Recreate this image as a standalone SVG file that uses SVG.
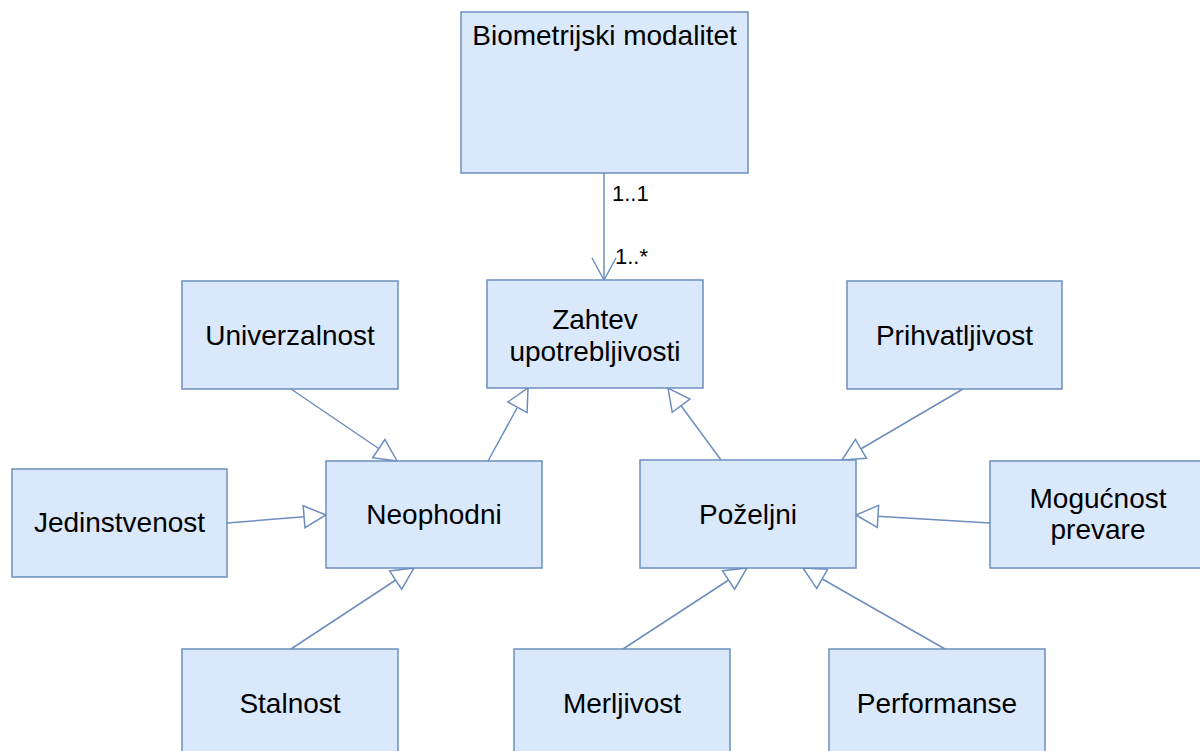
<svg xmlns="http://www.w3.org/2000/svg" width="1200" height="751" viewBox="0 0 1200 751">
  <style>
    .box { fill: #dae8fc; stroke: #6c8ebf; stroke-width: 1.5; }
    .lbl { font-family: "Liberation Sans", Arial, sans-serif; font-size: 28px; fill: #000; text-anchor: middle; }
    .mult { font-family: "Liberation Sans", Arial, sans-serif; font-size: 22px; fill: #000; }
    .edge { fill: none; stroke: #6c8ebf; stroke-width: 1.5; }
    .gen { marker-end: url(#hollow); }
    .assoc { marker-end: url(#open); }
  </style>
  <defs>
    <!-- generalization: hollow triangle -->
    <marker id="hollow" markerUnits="userSpaceOnUse" markerWidth="28" markerHeight="28" refX="24" refY="13" orient="auto" overflow="visible">
      <path d="M2,2 L24,13 L2,24 Z" fill="#ffffff" stroke="#6c8ebf" stroke-width="1.5"/>
    </marker>
    <!-- association: open arrowhead -->
    <marker id="open" markerUnits="userSpaceOnUse" markerWidth="28" markerHeight="28" refX="23" refY="12" orient="auto" overflow="visible">
      <path d="M1,0 L23,12 L1,24" fill="none" stroke="#6c8ebf" stroke-width="1.5"/>
    </marker>
  </defs>

  <rect width="1200" height="751" fill="#ffffff"/>

  <g id="connectors">
    <line class="edge assoc" x1="604" y1="173" x2="604" y2="280"/>
    <text class="mult" x="612" y="201">1..1</text>
    <text class="mult" x="615" y="264">1..*</text>
    <line class="edge gen" x1="291" y1="389" x2="397" y2="461"/>
    <line class="edge gen" x1="227" y1="523" x2="326" y2="515"/>
    <line class="edge gen" x1="291" y1="649" x2="414" y2="568"/>
    <line class="edge gen" x1="488" y1="461" x2="528" y2="388"/>
    <line class="edge gen" x1="721" y1="460" x2="668" y2="388"/>
    <line class="edge gen" x1="963" y1="389" x2="842" y2="460"/>
    <line class="edge gen" x1="990" y1="523" x2="856" y2="515"/>
    <line class="edge gen" x1="623" y1="649" x2="747" y2="568"/>
    <line class="edge gen" x1="945" y1="649" x2="803" y2="568"/>
  </g>

  <g id="biometrijski-modalitet">
    <rect class="box" x="461" y="12" width="287" height="161"/>
    <text class="lbl" x="604.5" y="45">Biometrijski modalitet</text>
  </g>

  <g id="zahtev-upotrebljivosti">
    <rect class="box" x="487" y="280" width="216" height="108"/>
    <text class="lbl" x="595" y="329">Zahtev</text>
    <text class="lbl" x="595" y="361">upotrebljivosti</text>
  </g>

  <g id="univerzalnost">
    <rect class="box" x="182" y="281" width="216" height="108"/>
    <text class="lbl" x="290" y="345">Univerzalnost</text>
  </g>

  <g id="prihvatljivost">
    <rect class="box" x="847" y="281" width="215" height="108"/>
    <text class="lbl" x="954.5" y="345">Prihvatljivost</text>
  </g>

  <g id="jedinstvenost">
    <rect class="box" x="12" y="469" width="215" height="108"/>
    <text class="lbl" x="119.5" y="532">Jedinstvenost</text>
  </g>

  <g id="neophodni">
    <rect class="box" x="326" y="461" width="216" height="107"/>
    <text class="lbl" x="434" y="524">Neophodni</text>
  </g>

  <g id="pozeljni">
    <rect class="box" x="640" y="460" width="216" height="108"/>
    <text class="lbl" x="748" y="524">Poželjni</text>
  </g>

  <g id="mogucnost-prevare">
    <rect class="box" x="990" y="461" width="216" height="107"/>
    <text class="lbl" x="1098" y="508">Mogućnost</text>
    <text class="lbl" x="1098" y="539">prevare</text>
  </g>

  <g id="stalnost">
    <rect class="box" x="182" y="649" width="216" height="108"/>
    <text class="lbl" x="290" y="713">Stalnost</text>
  </g>

  <g id="merljivost">
    <rect class="box" x="514" y="649" width="216" height="108"/>
    <text class="lbl" x="622" y="713">Merljivost</text>
  </g>

  <g id="performanse">
    <rect class="box" x="829" y="649" width="216" height="108"/>
    <text class="lbl" x="937" y="713">Performanse</text>
  </g>
</svg>
